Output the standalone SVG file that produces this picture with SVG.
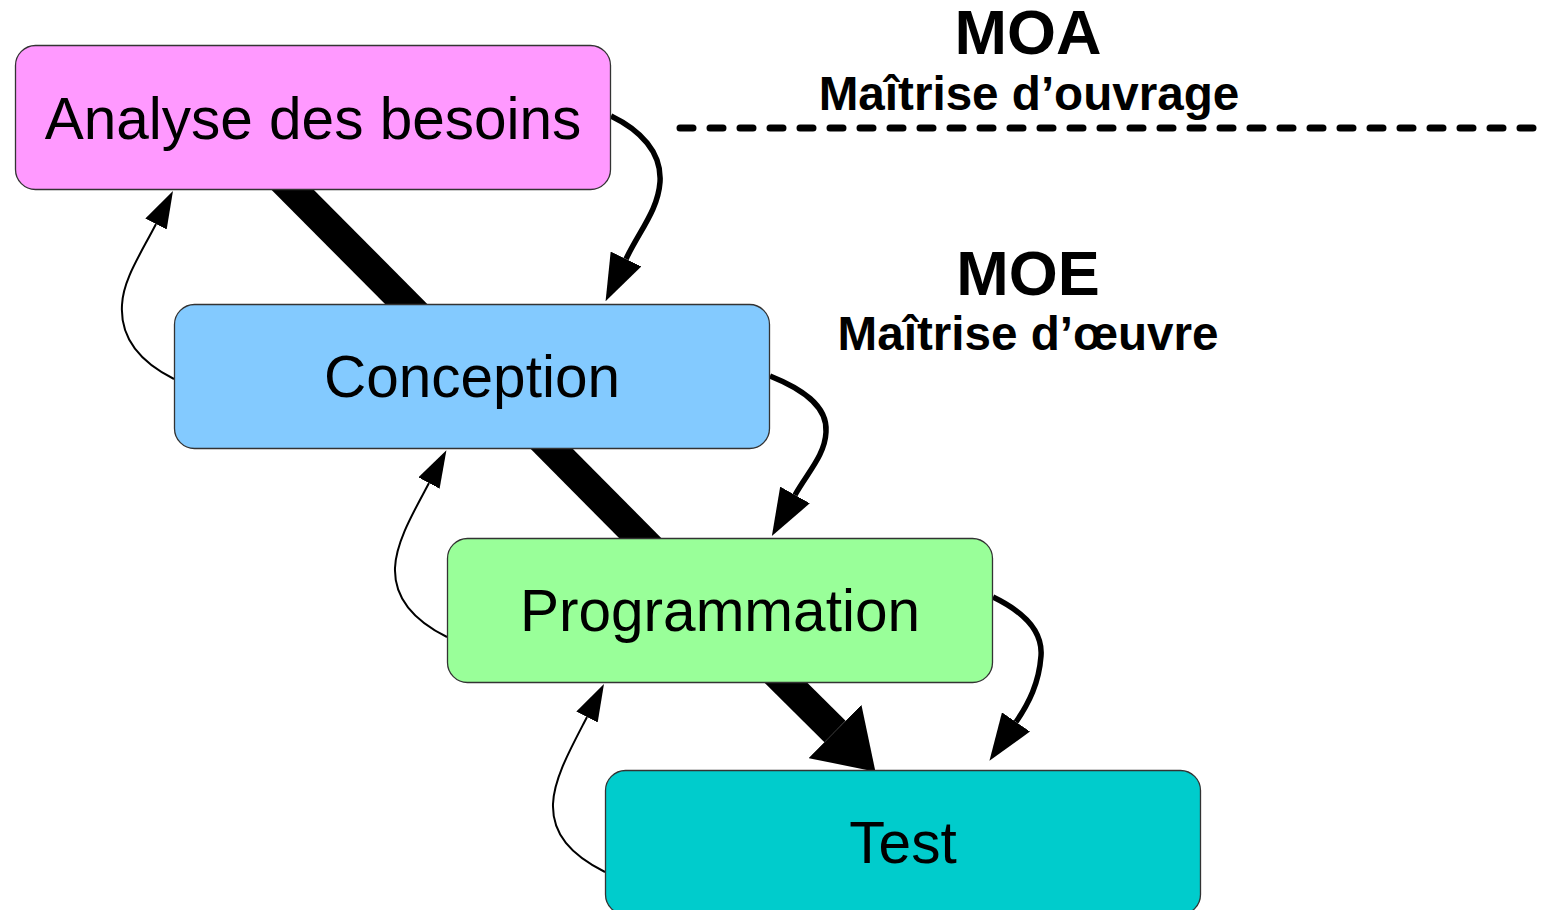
<svg xmlns="http://www.w3.org/2000/svg" width="1549" height="910" viewBox="0 0 1549 910">
  <style>
    .box { stroke: #333333; stroke-width: 1.3; }
    .label { font-family: "Liberation Sans", Arial, sans-serif; font-size: 58.5px; fill: #000000; text-anchor: middle; }
    .title { font-family: "Liberation Sans", Arial, sans-serif; font-weight: bold; font-size: 63px; fill: #000000; text-anchor: middle; }
    .sub { font-family: "Liberation Sans", Arial, sans-serif; font-weight: bold; font-size: 47.6px; fill: #000000; text-anchor: middle; }
    .flow { stroke: #000000; stroke-width: 30; fill: none; stroke-linecap: butt; }
    .fwd { stroke: #000000; stroke-width: 5.5; fill: none; }
    .back { stroke: #000000; stroke-width: 2; fill: none; }
    .sep { stroke: #000000; stroke-width: 7; stroke-dasharray: 13 17; stroke-linecap: round; fill: none; }
  </style>
  <defs>
    <marker id="bigHead" markerUnits="userSpaceOnUse" orient="auto" markerWidth="57" markerHeight="75" refX="0" refY="37.5">
      <path d="M0,0 L57,37.5 L0,75 z" fill="#000000"/>
    </marker>
    <marker id="fwdHead" markerUnits="userSpaceOnUse" orient="auto" markerWidth="47" markerHeight="34" refX="0" refY="17">
      <path d="M0,0 L47,17 L0,34 z" fill="#000000"/>
    </marker>
    <marker id="backHead" markerUnits="userSpaceOnUse" orient="auto" markerWidth="37" markerHeight="24" refX="0" refY="12">
      <path d="M0,0 L37,12 L0,24 z" fill="#000000"/>
    </marker>
  </defs>

  <g id="connectors">
    <line class="flow" x1="263" y1="160" x2="436" y2="334"/>
    <line class="flow" x1="531" y1="428" x2="660" y2="558"/>
    <line class="flow" x1="766" y1="663" x2="835" y2="731.5" marker-end="url(#bigHead)"/>
    <path class="fwd" d="M611,116 C640,130 662,152 660,182 C658,210 640,230 626,259" marker-end="url(#fwdHead)"/>
    <path class="fwd" d="M770,376 C800,388 828,405 826,432 C825,455 808,472 795,495" marker-end="url(#fwdHead)"/>
    <path class="fwd" d="M993,597 C1022,611 1043,630 1041,656 C1039,683 1029,703 1016,722" marker-end="url(#fwdHead)"/>
    <path class="back" d="M174,379 C140,362 120,338 122,305 C123,280 140,255 156,224" marker-end="url(#backHead)"/>
    <path class="back" d="M447,637 C413,620 394,598 395,568 C396,542 413,513 429,483" marker-end="url(#backHead)"/>
    <path class="back" d="M605,872 C571,855 552,834 553,804 C554,778 571,748 587,717" marker-end="url(#backHead)"/>
    <line class="sep" x1="680" y1="128" x2="1538" y2="128"/>
  </g>

  <g id="analyse">
    <rect class="box" x="15.5" y="45.5" width="595" height="144" rx="20" fill="#ff99ff"/>
    <text class="label" x="313" y="139">Analyse des besoins</text>
  </g>
  <g id="conception">
    <rect class="box" x="174.5" y="304.5" width="595" height="144" rx="20" fill="#83caff"/>
    <text class="label" x="472" y="397">Conception</text>
  </g>
  <g id="programmation">
    <rect class="box" x="447.5" y="538.5" width="545" height="144" rx="20" fill="#99ff99"/>
    <text class="label" x="720" y="631">Programmation</text>
  </g>
  <g id="test">
    <rect class="box" x="605.5" y="770.5" width="595" height="144" rx="20" fill="#00cccc"/>
    <text class="label" x="903" y="863">Test</text>
  </g>

  <g id="moa">
    <text class="title" x="1028" y="54">MOA</text>
    <text class="sub" x="1029" y="110">Maîtrise d’ouvrage</text>
  </g>
  <g id="moe">
    <text class="title" x="1028" y="295">MOE</text>
    <text class="sub" x="1028" y="350">Maîtrise d’œuvre</text>
  </g>
</svg>
